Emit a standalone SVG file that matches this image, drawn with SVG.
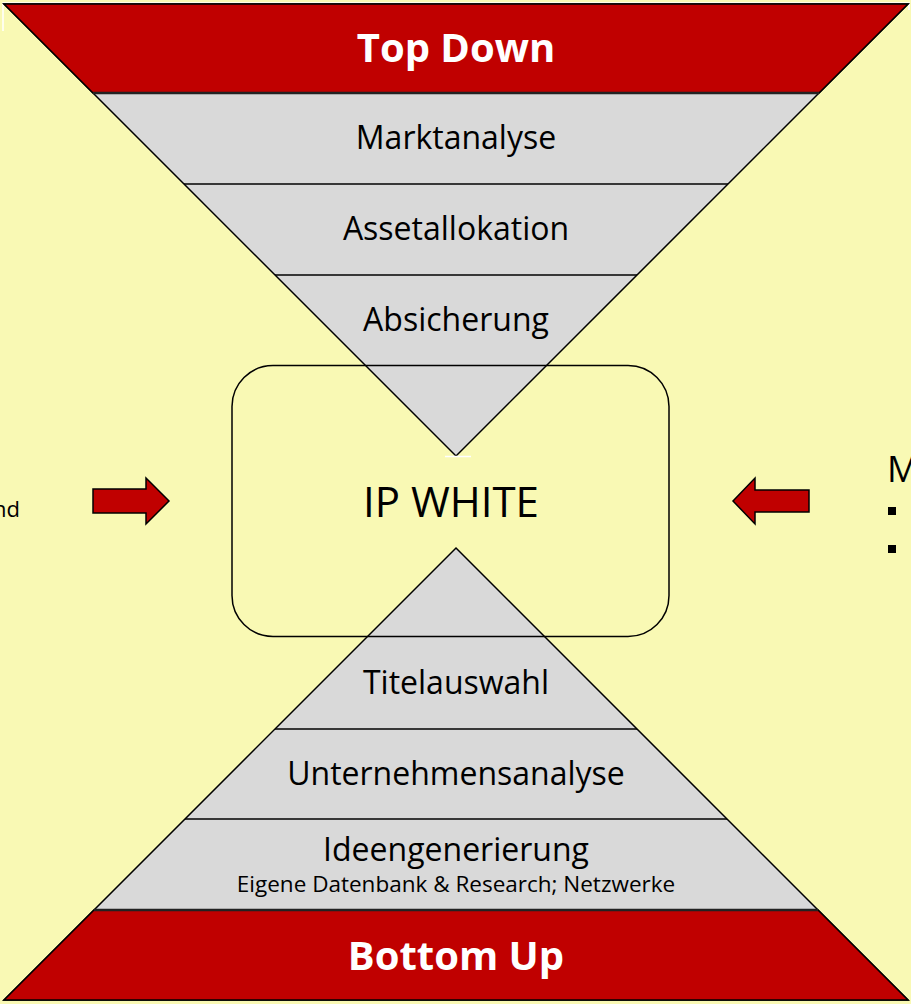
<svg xmlns="http://www.w3.org/2000/svg" width="911" height="1004" viewBox="0 0 911 1004">
<defs>
<style>
.bg{fill:#F9F9B4}
.red{fill:#C00000;stroke:#000;stroke-width:1.5;stroke-linejoin:miter}
.grey{fill:#D9D9D9;stroke:#000;stroke-width:1.5}
.sep{stroke:#000;stroke-width:1.5;fill:none}
.sepb{stroke:#222;stroke-width:2.5;fill:none}
.t{font-family:"Open Sans","Noto Sans","Liberation Sans",sans-serif;fill:#000;text-anchor:middle}
.h{font-family:"Open Sans","Noto Sans","Liberation Sans",sans-serif;fill:#fff;font-weight:bold;text-anchor:middle;font-size:40px}
.lbl{font-size:32px}
.arrow{fill:#C00000;stroke:#000;stroke-width:1.5;stroke-linejoin:miter}
</style>
</defs>
<rect class="bg" x="0" y="0" width="911" height="1004"/>
<polyline points="3,31 3,3 909,3 909,10" fill="none" stroke="#fff" stroke-width="1.5"/>

<g id="top-funnel">
<polygon class="grey" points="4,4 908,4 456,456"/>
<polygon class="red" points="4,4 908,4 819,93 93,93"/>
<line class="sepb" x1="93" y1="93" x2="819" y2="93"/>
<line class="sep" x1="184" y1="184" x2="728" y2="184"/>
<line class="sep" x1="275" y1="275" x2="637" y2="275"/>
<line x1="445" y1="456.5" x2="471" y2="456.5" stroke="#fff" stroke-width="1.5"/>
<text class="h" x="456" y="62">Top Down</text>
<text class="t lbl" x="456" y="149">Marktanalyse</text>
<text class="t lbl" x="456" y="240">Assetallokation</text>
<text class="t lbl" x="456" y="331">Absicherung</text>
</g>

<g id="bottom-pyramid">
<polygon class="grey" points="456,548 908,1000 4,1000"/>
<polygon class="red" points="94,910 818,910 908,1000 4,1000"/>
<line class="sepb" x1="94" y1="910" x2="818" y2="910"/>
<line class="sep" x1="185" y1="819" x2="727" y2="819"/>
<line class="sep" x1="275" y1="729" x2="637" y2="729"/>
<text class="t lbl" x="456" y="694">Titelauswahl</text>
<text class="t lbl" x="456" y="785">Unternehmensanalyse</text>
<text class="t lbl" x="456" y="861">Ideengenerierung</text>
<text class="t" x="456" y="892" font-size="22.5">Eigene Datenbank &amp; Research; Netzwerke</text>
<text class="h" x="456" y="970">Bottom Up</text>
</g>

<g id="ip-white">
<rect x="232" y="365.5" width="437" height="271" rx="41" ry="41" fill="none" stroke="#000" stroke-width="1.5"/>
<text class="t" x="451" y="517" font-size="42">IP WHITE</text>
</g>

<g id="left-text">
<text class="t" x="20" y="517" font-size="22" style="text-anchor:end">nd</text>
</g>

<g id="right-text">
<text class="t" x="887" y="482" font-size="36" style="text-anchor:start">M</text>
<rect x="888" y="507" width="8" height="8" fill="#000"/>
<rect x="888" y="545" width="8" height="8" fill="#000"/>
</g>

<g id="connectors">
<polygon class="arrow" points="93,489 146,489 146,478 169,501 146,524 146,513 93,513"/>
<polygon class="arrow" points="809,490 755,490 755,478 733,501 755,524 755,512 809,512"/>
</g>
</svg>
